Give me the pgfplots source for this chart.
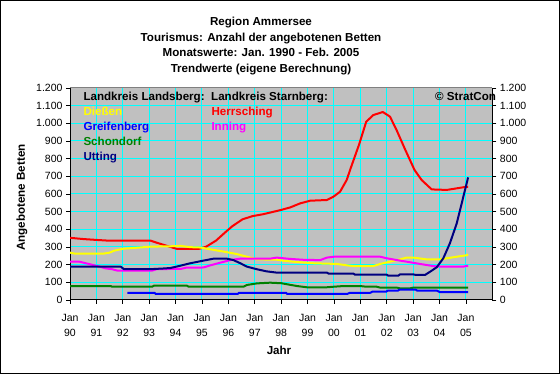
\documentclass[border=0pt]{standalone}
\usepackage{fontspec}
\setmainfont{Liberation Sans}
\usepackage{pgfplots}
\pgfplotsset{compat=1.18}
\definecolor{bgray}{HTML}{C0C0C0}
\definecolor{gcyan}{HTML}{00FFFF}
\definecolor{cyel}{HTML}{FFFF00}
\definecolor{cblue}{HTML}{0000FF}
\definecolor{cgreen}{HTML}{008000}
\definecolor{cnavy}{HTML}{000080}
\definecolor{cred}{HTML}{FF0000}
\definecolor{cmag}{HTML}{FF00FF}
\newcommand{\tf}{\fontsize{10.5}{15}\selectfont}
\newcommand{\bfn}{\fontsize{11.6}{15}\selectfont\bfseries}
\begin{document}
\begin{tikzpicture}[x=1pt,y=1pt]
\path[use as bounding box] (0,0) rectangle (560,374);
\draw[black, line width=1pt] (0.5,0.5) rectangle (559.5,373.5);
% titles
\node[anchor=base, inner sep=0, font=\bfn] at (261,348.3) {Region Ammersee};
\node[anchor=base, inner sep=0, font=\bfn] at (261,332.8) {Tourismus: Anzahl der angebotenen Betten};
\node[anchor=base, inner sep=0, font=\bfn] at (261,317.2) {Monatswerte: Jan. 1990 - Feb. 2005};
\node[anchor=base, inner sep=0, font=\bfn] at (261,301.7) {Trendwerte (eigene Berechnung)};
\begin{axis}[
  at={(70pt,74pt)}, anchor=south west, scale only axis,
  width=422.4pt, height=212pt,
  xmin=1990, xmax=2006, ymin=0, ymax=1200,
  axis x line*=bottom, axis y line*=left,
  axis line style={-, line width=1pt, black},
  xtick={1990,...,2005},
  xticklabels={Jan\\90,Jan\\91,Jan\\92,Jan\\93,Jan\\94,Jan\\95,Jan\\96,Jan\\97,Jan\\98,Jan\\99,Jan\\00,Jan\\01,Jan\\02,Jan\\03,Jan\\04,Jan\\05},
  minor x tick num=11,
  ytick={0,100,...,1200},
  grid=major, major grid style={gcyan, line width=1pt},
  axis background/.style={fill=bgray},
  tick align=outside, major tick length=4pt, minor tick length=2pt,
  tick style={black, line width=0.8pt},
  xticklabel style={align=center, font=\tf, yshift=-7pt},
  yticklabel style={font=\tf},
  /pgf/number format/1000 sep={.},
  /pgf/number format/assume math mode=true,
  every axis plot/.append style={line width=2pt, line join=round},
]
% Herrsching
\addplot[cred] coordinates {(1990.0,352) (1990.5,345) (1991.0,340) (1991.45,336) (1993.05,336) (1993.27,325) (1993.77,302) (1994.03,290) (1994.9,290) (1995.16,302) (1995.53,336) (1995.91,387) (1996.16,419) (1996.54,457) (1996.92,475) (1997.3,485) (1997.67,498) (1998.0,510) (1998.34,524) (1998.72,547) (1999.1,562) (1999.73,566) (1999.98,585) (2000.23,613) (2000.48,679) (2000.63,745) (2000.95,880) (2001.22,1009) (2001.49,1047) (2001.85,1064) (2002.12,1038) (2002.37,962) (2002.7,850) (2003.05,736) (2003.32,679) (2003.7,626) (2004.27,623) (2004.65,632) (2005.02,641) (2005.08,641)};
% Diessen
\addplot[cyel] coordinates {(1990,268) (1990.2,262) (1991.25,262) (1991.5,268) (1991.67,279) (1992.0,290) (1992.55,296) (1993.05,302) (1993.8,304) (1994.2,306) (1994.56,299) (1994.94,297) (1995.31,287) (1995.82,274) (1996.32,260) (1996.7,245) (1997.08,230) (1997.83,228) (1998.1,222) (1998.59,215) (1999.22,208) (2000.1,204) (2000.5,196) (2000.74,192) (2001.49,192) (2001.75,204) (2002.12,217) (2002.5,230) (2002.75,240) (2003.0,240) (2003.51,230) (2004.02,230) (2004.27,236) (2004.65,245) (2005.02,253) (2005.08,258)};
% Inning
\addplot[cmag] coordinates {(1990,217) (1990.35,217) (1990.6,208) (1991.04,192) (1991.35,179) (1991.6,174) (1991.8,166) (1993.1,166) (1993.3,175) (1994.2,176) (1994.4,183) (1995.06,184) (1995.31,196) (1995.69,211) (1996.07,226) (1996.45,234) (1997.58,234) (1997.83,240) (1998.3,233) (1998.9,227) (1999.48,226) (1999.73,240) (2000.0,245) (2001.75,245) (2002.0,236) (2002.38,226) (2002.75,217) (2003.26,204) (2003.76,192) (2004.02,189) (2004.9,189) (2005.08,194)};
% Utting
\addplot[cnavy] coordinates {(1990,189) (1991.92,189) (1992.04,175) (1993.11,175) (1993.5,178) (1993.8,181) (1994.18,194) (1994.56,208) (1995.06,223) (1995.44,234) (1995.94,234) (1996.19,226) (1996.45,208) (1996.7,189) (1997.08,174) (1997.45,162) (1997.83,155) (1999.73,155) (1999.8,149) (2000.74,149) (2000.8,143) (2002.0,143) (2002.05,138) (2002.44,138) (2002.5,145) (2003.0,145) (2003.1,142) (2003.45,142) (2003.64,160) (2003.89,185) (2004.14,236) (2004.39,321) (2004.65,434) (2004.9,585) (2005.08,694)};
% Schondorf
\addplot[cgreen] coordinates {(1990,79) (1991.54,79) (1991.6,75) (1993.11,75) (1993.18,81) (1994.43,81) (1994.5,75) (1996.57,75) (1996.7,85) (1997.08,94) (1997.58,98) (1998.0,95) (1998.3,87) (1998.6,79) (1998.97,72) (1999.73,72) (1999.98,75) (2000.36,79) (2000.99,79) (2001.24,75) (2001.62,75) (2001.75,70) (2002.38,70) (2002.5,66) (2002.88,66) (2003.0,70) (2005.08,70)};
% Greifenberg
\addplot[cblue] coordinates {(1992.17,41) (1993.2,41) (1993.25,34) (1996.35,34) (1996.4,41) (1998.18,41) (1998.23,34) (2000.5,34) (2000.6,41) (2001.38,41) (2001.45,47) (2001.98,47) (2002.03,53) (2002.42,53) (2002.47,58) (2003.1,58) (2003.15,53) (2003.9,53) (2004.0,45) (2005.08,45)};
\draw[black!50, line width=1pt] (rel axis cs:0,1) -- (rel axis cs:1,1);
\end{axis}
\begin{axis}[
  at={(70pt,74pt)}, anchor=south west, scale only axis,
  width=422.4pt, height=212pt,
  xmin=1990, xmax=2006, ymin=0, ymax=1200,
  axis y line*=right, axis x line=none,
  axis line style={-, line width=1pt, black},
  ytick={0,100,...,1200},
  tick align=outside, major tick length=4pt,
  tick style={black, line width=0.8pt},
  yticklabel style={font=\tf},
  /pgf/number format/1000 sep={.},
  /pgf/number format/assume math mode=true,
]
\addplot[draw=none] coordinates {(1990,0)};
\end{axis}
% in-plot legend text
\node[anchor=base west, inner sep=0, font=\bfn] at (83.3,273) {Landkreis Landsberg:};
\node[anchor=base west, inner sep=0, font=\bfn] at (211,273) {Landkreis Starnberg:};
\node[anchor=base west, inner sep=0, font=\bfn] at (435,273) {© StratCon};
\node[anchor=base west, inner sep=0, font=\bfn, text=cyel] at (83.3,258) {Dießen};
\node[anchor=base west, inner sep=0, font=\bfn, text=cblue] at (83.3,243) {Greifenberg};
\node[anchor=base west, inner sep=0, font=\bfn, text=cgreen] at (83.3,228) {Schondorf};
\node[anchor=base west, inner sep=0, font=\bfn, text=cnavy] at (83.3,213) {Utting};
\node[anchor=base west, inner sep=0, font=\bfn, text=cred] at (211.3,258) {Herrsching};
\node[anchor=base west, inner sep=0, font=\bfn, text=cmag] at (211.3,243) {Inning};
% axis labels
\node[anchor=base, inner sep=0, font=\bfn] at (279,19) {Jahr};
\node[rotate=90, inner sep=0, font=\bfn] at (22,176.5) {Angebotene Betten};
\end{tikzpicture}
\end{document}
